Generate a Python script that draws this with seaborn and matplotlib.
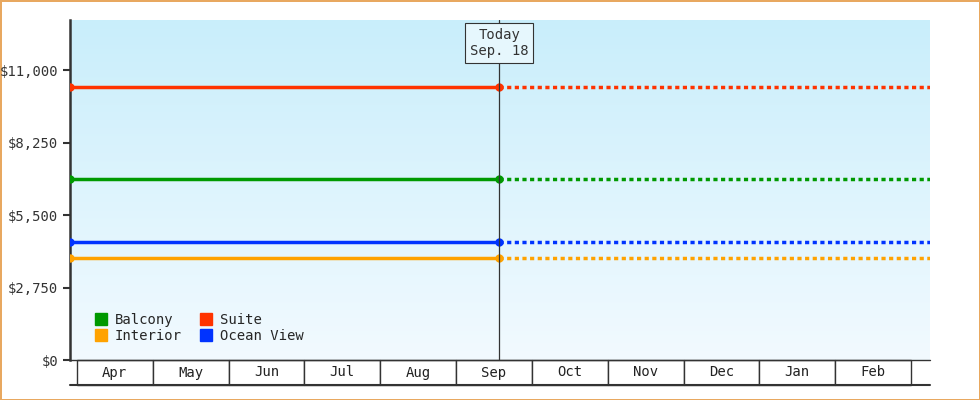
import numpy as np
import pandas as pd
import matplotlib
matplotlib.use("Agg")
import matplotlib.pyplot as plt
import matplotlib.transforms as mtransforms
from matplotlib.patches import Rectangle
import seaborn as sns

# data: fares per cabin category (flat over period)
categories = ["Balcony", "Interior", "Suite", "Ocean View"]
prices = [6870, 3870, 10350, 4480]
colors = ["#009900", "#ffa200", "#ff3300", "#0033ff"]
months = ["Apr", "May", "Jun", "Jul", "Aug", "Sep", "Oct", "Nov", "Dec", "Jan", "Feb"]
# x in month units, 0 = start of April
x_start = -0.09
x_today = 5.57
x_end = 11.25
yticks = [0, 2750, 5500, 8250, 11000]

sns.set_style("white")
plt.rcParams["font.family"] = ["DejaVu Sans Mono", "DejaVu Sans"]

fig = plt.figure(figsize=(9.8, 4), dpi=100)
fig.patch.set_edgecolor("#e8a860")
fig.patch.set_linewidth(2)
ax = fig.add_axes([70 / 980, 40 / 400, 860 / 980, 340 / 400])

# gradient background (top darker)
grad = np.linspace(0, 1, 256).reshape(-1, 1)
cmap = matplotlib.colors.LinearSegmentedColormap.from_list("bg", ["#c9eefb", "#f2faff"])
ax.imshow(grad, aspect="auto", cmap=cmap, origin="upper",
          extent=[x_start, x_end, 0, 12900], zorder=0)

rows_solid = []
rows_dot = []
for c, p in zip(categories, prices):
    rows_solid += [{"x": x_start, "y": p, "cat": c}, {"x": x_today, "y": p, "cat": c}]
    rows_dot += [{"x": x_today, "y": p, "cat": c}, {"x": x_end, "y": p, "cat": c}]
pal = dict(zip(categories, colors))
sns.lineplot(data=pd.DataFrame(rows_solid), x="x", y="y", hue="cat", palette=pal,
             marker="o", markersize=6, markeredgewidth=0, linewidth=2.5, ax=ax, legend=False, zorder=3)
sns.lineplot(data=pd.DataFrame(rows_dot), x="x", y="y", hue="cat", palette=pal,
             linestyle=(0, (1.2, 1.0)), linewidth=2.5, ax=ax, legend=False, zorder=2)

ax.axvline(x_today, color="#333333", linewidth=0.9, zorder=4)
ax.text(x_today, 12900 - 300, "Today\nSep. 18", ha="center", va="top", fontsize=10, color="#333333",
        bbox=dict(boxstyle="square,pad=0.35", fc="#e6f7fd", ec="#333333", lw=0.8), zorder=5)

ax.set_xlim(x_start, x_end)
ax.set_ylim(0, 12900)
ax.set_yticks(yticks)
ax.set_yticklabels(["${:,}".format(v) for v in yticks], fontsize=10, color="#333333")
ax.tick_params(axis="y", length=5, width=1.5, color="#333333", left=True)
ax.set_xticks([])
ax.set_xlabel("")
ax.set_ylabel("")
for s in ["top", "right", "bottom"]:
    ax.spines[s].set_visible(False)
ax.spines["left"].set_linewidth(1.8)
ax.spines["left"].set_color("#333333")

# month boxes below the axis
trans = mtransforms.blended_transform_factory(ax.transData, ax.transAxes)
box_h = 25 / 340
for i, m in enumerate(months):
    ax.add_patch(Rectangle((i, -box_h), 1, box_h, transform=trans, clip_on=False,
                           fc="white", ec="#333333", lw=1))
    ax.text(i + 0.5, -box_h / 2, m, transform=trans, ha="center", va="center",
            fontsize=10, color="#222222", clip_on=False)
ax.plot([0, 1], [-box_h, -box_h], transform=ax.transAxes, color="#333333", lw=1.5, clip_on=False)
ax.plot([0, 1], [0, 0], transform=ax.transAxes, color="#333333", lw=1, clip_on=False)

handles = [plt.Line2D([], [], marker="s", linestyle="", color=c, markersize=9) for c in colors]
ax.legend(handles, categories, ncol=2, loc="lower left", frameon=False, fontsize=10,
          handletextpad=0.0, columnspacing=0.8, labelspacing=0.2, borderaxespad=0.8,
          bbox_to_anchor=(0.0, 0.0))

fig.savefig("out.png", dpi=100, edgecolor=fig.get_edgecolor())
